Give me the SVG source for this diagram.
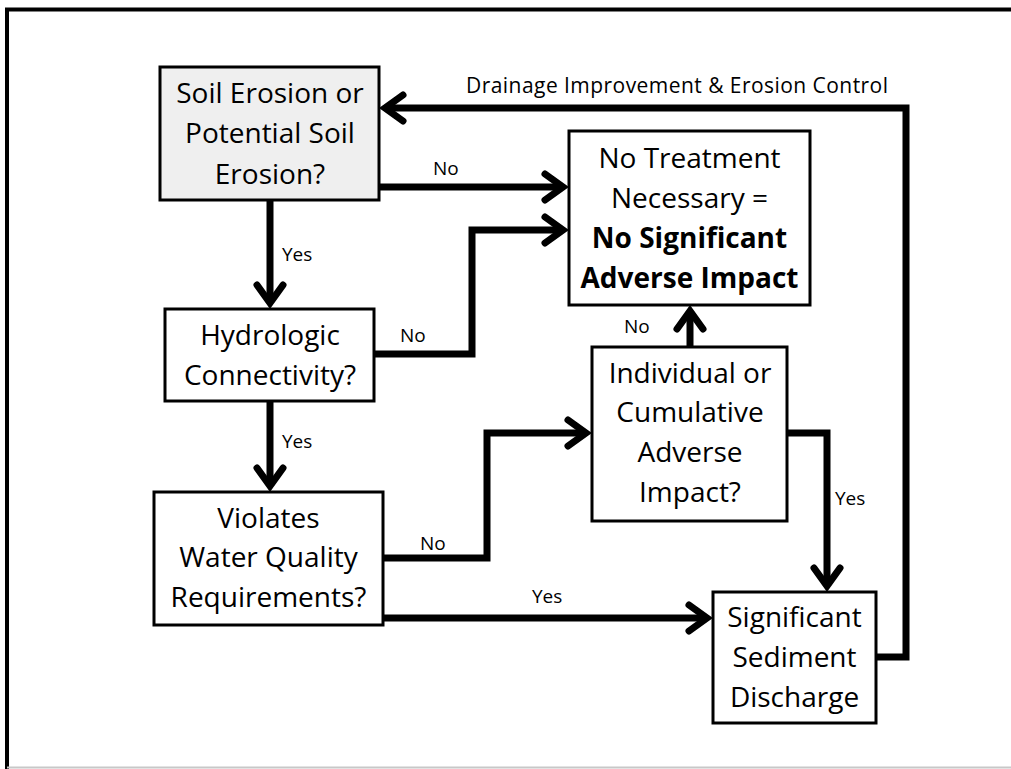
<svg xmlns="http://www.w3.org/2000/svg" width="1011" height="769" viewBox="0 0 1011 769">
<style>
.box{fill:#fff;stroke:#000;stroke-width:3}
.grey{fill:#efefef}
.t{font-family:"Open Sans","Liberation Sans",sans-serif;font-size:28px;fill:#000;text-anchor:middle}
.b{font-weight:bold}
.lbl{font-family:"Open Sans","Liberation Sans",sans-serif;font-size:19px;fill:#000}
.c{fill:none;stroke:#000;stroke-width:7;stroke-linejoin:miter;marker-end:url(#ah)}
</style>
<defs>
<marker id="ah" markerUnits="userSpaceOnUse" orient="auto" overflow="visible" refX="0" refY="0" markerWidth="1" markerHeight="1">
<path d="M-18,-13 L0,0 L-18,13" fill="none" stroke="#000" stroke-width="7" stroke-linecap="round" stroke-linejoin="miter"/>
</marker>
</defs>
<rect width="1011" height="769" fill="#fff"/>
<g id="frame">
<line x1="7" y1="8" x2="7" y2="769" stroke="#000" stroke-width="4"/>
<line x1="5" y1="9.5" x2="1011" y2="9.5" stroke="#000" stroke-width="4"/>
<line x1="7" y1="767.5" x2="1011" y2="767.5" stroke="#c8c8c8" stroke-width="2"/>
</g>
<g id="connectors">
<path class="c" d="M379,187 H563"/>
<path class="c" d="M270,200 V303"/>
<path class="c" d="M374,354 H472 V230 H563"/>
<path class="c" d="M270,401 V486"/>
<path class="c" d="M383,558 H487 V433 H586"/>
<path class="c" d="M383,618 H707"/>
<path class="c" d="M690,347 V311"/>
<path class="c" d="M787,433 H827 V586"/>
<path class="c" d="M876,657 H906 V108 H385"/>
<text class="lbl" x="433" y="175">No</text>
<text class="lbl" x="282" y="261">Yes</text>
<text class="lbl" x="400" y="342">No</text>
<text class="lbl" x="282" y="448">Yes</text>
<text class="lbl" x="420" y="550">No</text>
<text class="lbl" x="532" y="603">Yes</text>
<text class="lbl" x="624" y="333">No</text>
<text class="lbl" x="835" y="505">Yes</text>
<text class="lbl" x="466" y="93" style="font-size:21px" textLength="422" lengthAdjust="spacing">Drainage Improvement &amp; Erosion Control</text>
</g>
<g id="soil">
<rect class="box grey" x="160" y="67" width="219" height="133"/>
<text class="t" x="270" y="103">Soil Erosion or</text>
<text class="t" x="270" y="143">Potential Soil</text>
<text class="t" x="270" y="184">Erosion?</text>
</g>
<g id="notreatment">
<rect class="box" x="569" y="131" width="241" height="174"/>
<text class="t" x="689.5" y="168">No Treatment</text>
<text class="t" x="689.5" y="208">Necessary =</text>
<text class="t b" x="689.5" y="248">No Significant</text>
<text class="t b" x="689.5" y="288">Adverse Impact</text>
</g>
<g id="hydrologic">
<rect class="box" x="165" y="309" width="209" height="92"/>
<text class="t" x="270" y="345">Hydrologic</text>
<text class="t" x="270" y="385">Connectivity?</text>
</g>
<g id="violates">
<rect class="box" x="154" y="492" width="229" height="133"/>
<text class="t" x="268.5" y="528">Violates</text>
<text class="t" x="268.5" y="567">Water Quality</text>
<text class="t" x="268.5" y="607">Requirements?</text>
</g>
<g id="individual">
<rect class="box" x="592" y="347" width="195" height="174"/>
<text class="t" x="690" y="383">Individual or</text>
<text class="t" x="690" y="422">Cumulative</text>
<text class="t" x="690" y="462">Adverse</text>
<text class="t" x="690" y="502">Impact?</text>
</g>
<g id="significant">
<rect class="box" x="713" y="592" width="163" height="131"/>
<text class="t" x="794.5" y="627">Significant</text>
<text class="t" x="794.5" y="667">Sediment</text>
<text class="t" x="794.5" y="707">Discharge</text>
</g>
</svg>
